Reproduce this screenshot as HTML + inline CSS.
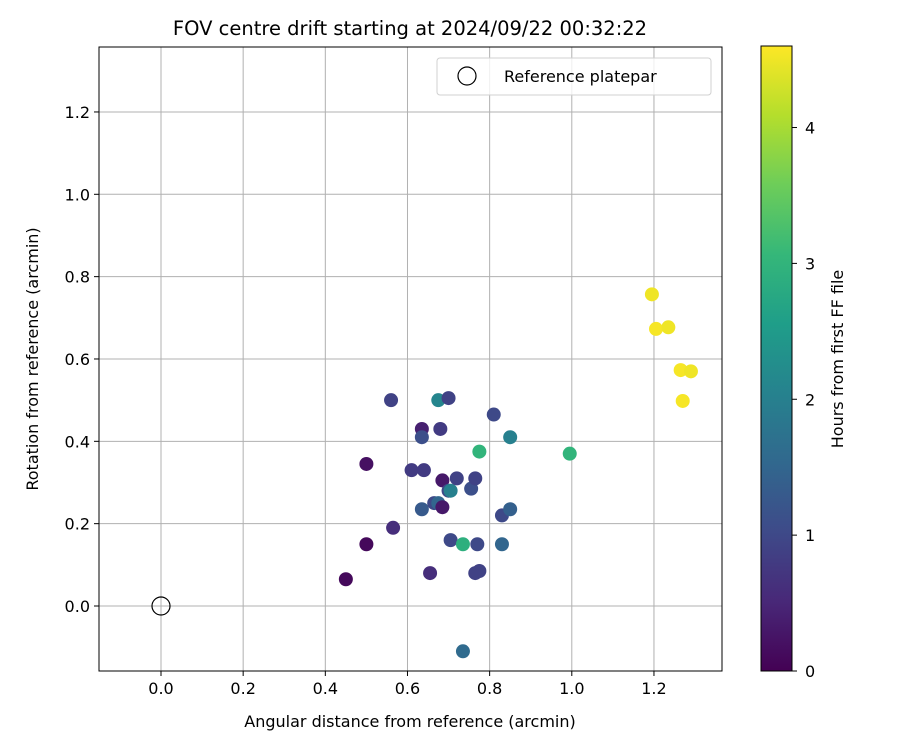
<!DOCTYPE html>
<html><head><meta charset="utf-8"><style>
body{margin:0;background:#fff;font-family:"Liberation Sans","DejaVu Sans",sans-serif}
</style></head><body>
<svg id="c" width="900" height="750" xmlns="http://www.w3.org/2000/svg" font-family="DejaVu Sans, Liberation Sans, sans-serif"></svg>
<script>
const xs=[0.45,0.50,0.50,0.565,0.56,0.61,0.635,0.635,0.64,0.635,0.655,0.665,0.675,0.675,0.68,0.685,0.685,0.70,0.70,0.705,0.705,0.72,0.735,0.735,0.755,0.765,0.765,0.775,0.77,0.775,0.81,0.83,0.83,0.85,0.85,0.995,1.195,1.205,1.235,1.265,1.29,1.27];
const ys=[0.065,0.345,0.15,0.19,0.50,0.33,0.43,0.41,0.33,0.235,0.08,0.25,0.25,0.50,0.43,0.305,0.24,0.505,0.28,0.28,0.16,0.31,0.15,-0.11,0.285,0.31,0.08,0.085,0.15,0.375,0.465,0.22,0.15,0.41,0.235,0.37,0.757,0.673,0.677,0.573,0.57,0.498];
const hours=[0.1,0.2,0.1,0.6,0.9,0.8,0.4,1.1,0.8,1.3,0.6,1.0,1.5,2.1,0.8,0.3,0.3,0.9,1.0,2.0,1.0,0.9,2.9,1.6,1.1,0.9,0.9,0.9,1.0,3.0,1.0,1.0,1.5,2.0,1.4,3.0,4.5,4.55,4.5,4.55,4.5,4.55];
const xTicks=[0,0.2,0.4,0.6,0.8,1.0,1.2];
const yTicks=[0,0.2,0.4,0.6,0.8,1.0,1.2];
const cTicks=[0,1,2,3,4];
const hMax=4.6;
const L=99,R=722,T=47,B=671;
const X=v=>161+v*410.8, Y=v=>606-v*411.7;
const vir=[[68,1,84],[72,40,120],[62,74,137],[49,104,142],[38,130,142],[31,158,137],[53,183,121],[109,205,89],[180,222,44],[253,231,37]];
function col(h){let t=Math.max(0,Math.min(1,h/hMax))*(vir.length-1);let i=Math.min(Math.floor(t),vir.length-2),f=t-i;
const c=vir[i].map((a,k)=>Math.round(a+(vir[i+1][k]-a)*f));return `rgb(${c})`;}
const s=document.getElementById('c');const NS='http://www.w3.org/2000/svg';
function el(t,a,txt){const e=document.createElementNS(NS,t);for(const k in a)e.setAttribute(k,a[k]);if(txt!==undefined)e.textContent=txt;s.appendChild(e);return e;}
let e;
xTicks.forEach(v=>{e=el('line',{x1:X(v),x2:X(v),y1:T,y2:B,stroke:'#b0b0b0','stroke-width':1});
e=el('line',{x1:X(v),x2:X(v),y1:B,y2:B+5,stroke:'#000'});
e=el('text',{x:X(v),y:B+23,'font-size':16,'text-anchor':'middle'},v.toFixed(1));});
yTicks.forEach(v=>{e=el('line',{x1:L,x2:R,y1:Y(v),y2:Y(v),stroke:'#b0b0b0','stroke-width':1});
e=el('line',{x1:L-5,x2:L,y1:Y(v),y2:Y(v),stroke:'#000'});
e=el('text',{x:L-9,y:Y(v)+6,'font-size':16,'text-anchor':'end'},v.toFixed(1));});
xs.forEach((x,i)=>{e=el('circle',{cx:X(x),cy:Y(ys[i]),r:7,fill:col(hours[i])});});
e=el('circle',{cx:X(0),cy:Y(0),r:9,fill:'none',stroke:'#000','stroke-width':1.2});
e=el('rect',{x:L,y:T,width:R-L,height:B-T,fill:'none',stroke:'#000','stroke-width':1});
e=el('rect',{x:437,y:58,width:274,height:37,rx:3,fill:'#fff','fill-opacity':0.8,stroke:'#d0d0d0'});
e=el('circle',{cx:467,cy:76,r:9,fill:'none',stroke:'#000','stroke-width':1.2});
e=el('text',{x:504,y:82,'font-size':16},'Reference platepar');
e=el('text',{x:410,y:35,'font-size':19.5,'text-anchor':'middle'},'FOV centre drift starting at 2024/09/22 00:32:22');
e=el('text',{x:410,y:727,'font-size':16,'text-anchor':'middle'},'Angular distance from reference (arcmin)');
e=el('text',{x:38,y:359,'font-size':16,'text-anchor':'middle',transform:'rotate(-90 38 359)'},'Rotation from reference (arcmin)');
const d=el('defs',{});const g=document.createElementNS(NS,'linearGradient');g.setAttribute('id','vg');g.setAttribute('x1','0');g.setAttribute('y1','1');g.setAttribute('x2','0');g.setAttribute('y2','0');d.appendChild(g);
vir.forEach((c,i)=>{const st=document.createElementNS(NS,'stop');st.setAttribute('offset',i/(vir.length-1));st.setAttribute('stop-color',`rgb(${c})`);g.appendChild(st);});
const cT=46,cB=671,CY=v=>cB-v/hMax*(cB-cT);
e=el('rect',{x:761,y:cT,width:31,height:cB-cT,fill:'url(#vg)',stroke:'#000','stroke-width':1});
cTicks.forEach(v=>{e=el('line',{x1:792,x2:797,y1:CY(v),y2:CY(v),stroke:'#000'});
e=el('text',{x:805,y:CY(v)+6,'font-size':16},String(v));});
e=el('text',{x:843,y:359,'font-size':16,'text-anchor':'middle',transform:'rotate(-90 843 359)'},'Hours from first FF file');
</script>
</body></html>
